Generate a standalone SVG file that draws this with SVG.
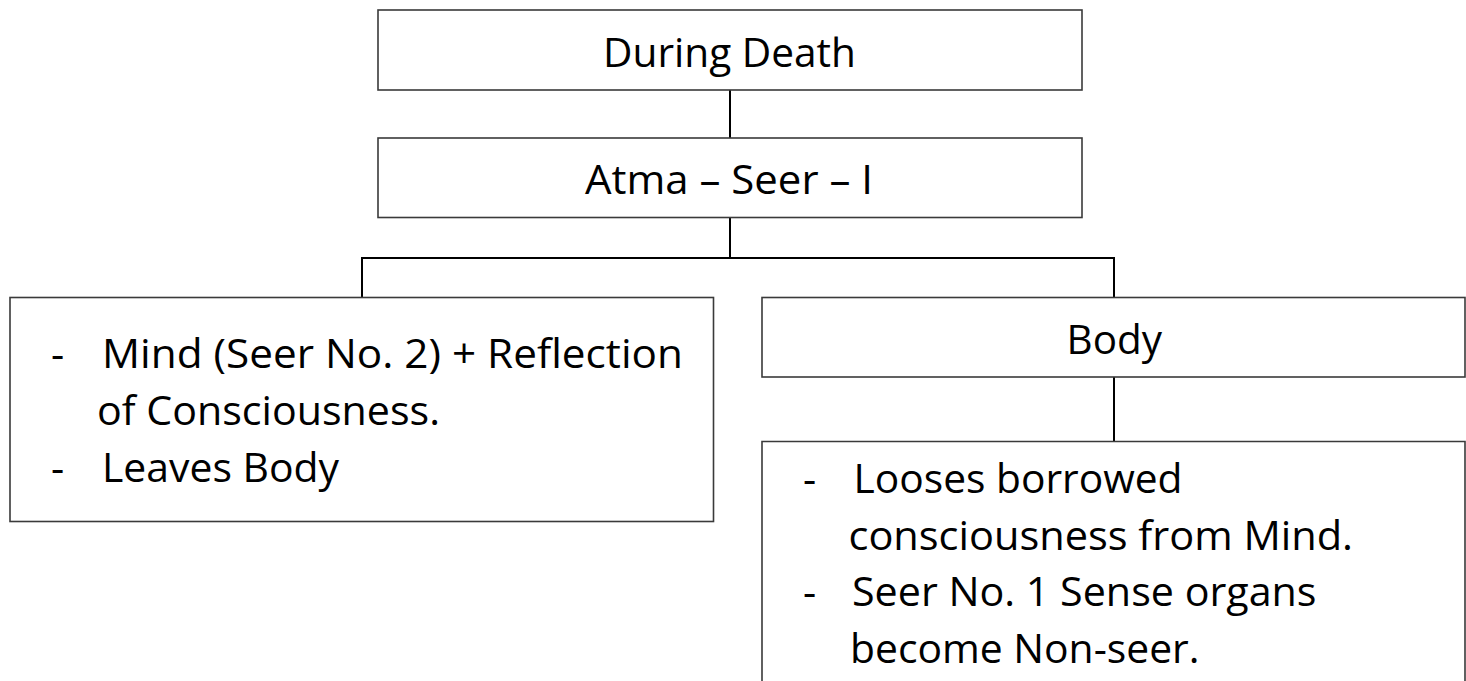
<svg xmlns="http://www.w3.org/2000/svg" width="1466" height="681" viewBox="0 0 1466 681">
  <style>
    .box { fill: #ffffff; stroke: #3a3a3a; stroke-width: 1.6; }
    .link { fill: none; stroke: #000000; stroke-width: 2; }
    text { font-family: "Open Sans", "Noto Sans", "Liberation Sans", sans-serif; font-size: 41px; fill: #000000; }
  </style>
  <rect width="1466" height="681" fill="#ffffff"/>

  <!-- connectors -->
  <g id="connectors">
    <line class="link" x1="730" y1="90" x2="730" y2="138"/>
    <line class="link" x1="730" y1="217.5" x2="730" y2="258"/>
    <polyline class="link" points="362,297.5 362,258 1114,258 1114,297.5"/>
    <line class="link" x1="1114" y1="377" x2="1114" y2="441.5"/>
  </g>

  <!-- root -->
  <g id="during-death">
    <rect class="box" x="378" y="10" width="704" height="80"/>
    <text x="603" y="66.7" textLength="253" lengthAdjust="spacingAndGlyphs">During Death</text>
  </g>

  <g id="atma">
    <rect class="box" x="378" y="138" width="704" height="79.5"/>
    <text x="585" y="194.3" textLength="288" lengthAdjust="spacingAndGlyphs">Atma – Seer – I</text>
  </g>

  <g id="mind">
    <rect class="box" x="10" y="297.5" width="703.5" height="224"/>
    <text x="51" y="368.3">-</text>
    <text x="102" y="368.3" textLength="581" lengthAdjust="spacingAndGlyphs">Mind (Seer No. 2) + Reflection</text>
    <text x="97" y="425" textLength="343" lengthAdjust="spacingAndGlyphs">of Consciousness.</text>
    <text x="51" y="482">-</text>
    <text x="102" y="482" textLength="237" lengthAdjust="spacingAndGlyphs">Leaves Body</text>
  </g>

  <g id="body">
    <rect class="box" x="762" y="297.5" width="703" height="79.5"/>
    <text x="1066.5" y="354.3" textLength="95.5" lengthAdjust="spacingAndGlyphs">Body</text>
  </g>

  <g id="body-effects">
    <path class="box" d="M762,690 V441.5 H1465 V690"/>
    <text x="803" y="492.7">-</text>
    <text x="853.5" y="492.7" textLength="329" lengthAdjust="spacingAndGlyphs">Looses borrowed</text>
    <text x="848.5" y="550" textLength="504.5" lengthAdjust="spacingAndGlyphs">consciousness from Mind.</text>
    <text x="803" y="606">-</text>
    <text x="852" y="606" textLength="464.5" lengthAdjust="spacingAndGlyphs">Seer No. 1 Sense organs</text>
    <text x="850" y="663.3" textLength="349.5" lengthAdjust="spacingAndGlyphs">become Non-seer.</text>
  </g>
</svg>
